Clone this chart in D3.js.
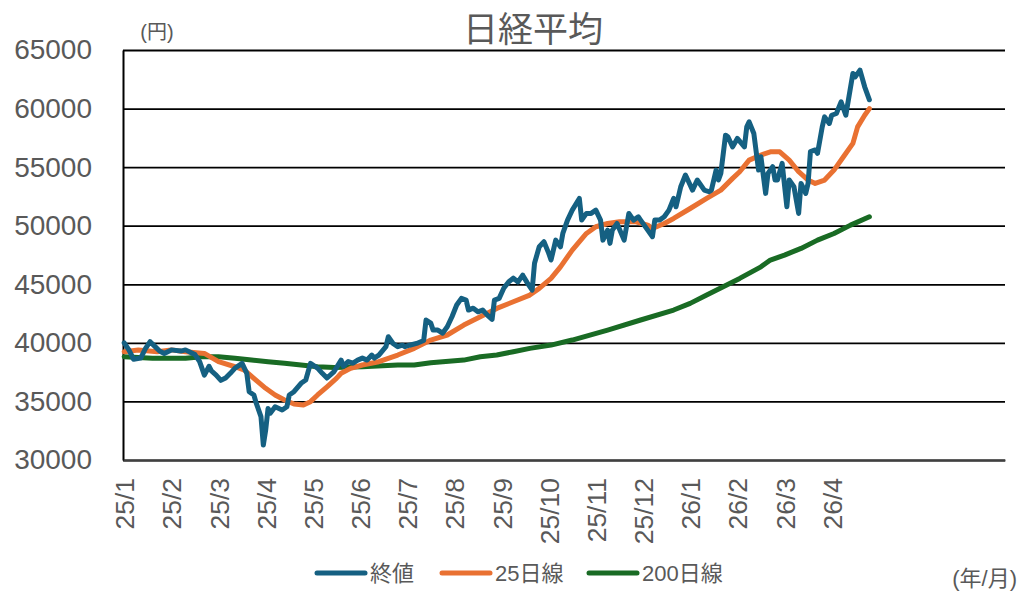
<!DOCTYPE html>
<html>
<head>
<meta charset="utf-8">
<script src="https://cdn.jsdelivr.net/npm/d3@7"></script>
<style>
  body { margin: 0; background: #fff; }
  svg text { font-family: "Liberation Sans", Arial, "Noto Sans CJK JP", sans-serif; fill: #595959; }
</style>
</head>
<body>
<div id="chart"></div>
<script>
// month labels, one every 20 trading days
const monthLabels = ['25/1','25/2','25/3','25/4','25/5','25/6','25/7','25/8','25/9','25/10','25/11','25/12','26/1','26/2','26/3','26/4'];
const yTicks = [30000, 35000, 40000, 45000, 50000, 55000, 60000, 65000];

// close (trading day index, yen)
const closeDays = [0,2,4,7,9,11,13,15,17,20,24,26,28,30,32,34,36,37,39,41,43,45,47,50,52,53,55,56,58,59,60,61,62,64,67,69,70,72,75,77,79,82,84,86,89,92,93,95,97,99,101,103,105,106,108,111,112,114,116,118,119,121,124,127,128,130,131,133,135,137,139,141,143,145,146,148,150,152,154,156,157,159,161,163,165,167,169,171,173,174,176,178,180,181,183,185,186,188,190,193,194,196,198,200,202,203,205,206,207,209,212,214,216,218,219,222,224,225,227,229,231,233,234,236,238,239,241,243,246,248,249,251,252,253,255,256,258,260,263,264,265,267,269,270,272,273,275,276,277,279,281,282,284,286,287,289,290,291,293,294,296,297,299,300,302,304,306,309,310,312,314,316];
const closeValues = [40000,39400,38600,38700,39500,40100,39700,39300,39100,39400,39300,39400,39200,39000,38400,37250,38000,37600,37250,36800,37000,37400,37850,38250,37400,35830,35550,34850,33700,31280,32560,34400,34000,34550,34270,34550,35550,35830,36550,36830,38250,37850,37400,37000,37550,38530,38000,38400,38270,38530,38700,38530,38960,38700,38960,39670,40520,39950,39670,39800,39670,39800,39950,40200,41950,41680,41090,41090,40830,41370,42230,43230,43800,43650,42800,42960,42650,42800,42370,42000,43650,43800,44680,45200,45530,45200,45780,45100,44500,46800,48200,48630,47660,47070,48770,48200,49340,50480,51330,52330,50480,51050,51050,51330,50480,48770,49620,48490,49620,50190,48770,51050,50480,50760,50480,49620,49060,50480,50480,50760,51330,52330,51620,53330,54330,53900,53040,53900,53040,52900,53040,54750,53900,54470,57730,57590,56730,57450,56730,58440,58870,57870,54750,55890,52760,54470,55040,53900,53900,55320,51620,53900,53330,51050,53610,52760,53610,56330,56470,56180,58440,59290,58730,59430,59580,60570,59430,63000,62710,63280,61860,60750];

// 25-day moving average
const ma25Days = [0,6,14,20,26,34,40,47,51,55,60,64,68,72,76,79,82,86,90,92,96,101,108,116,123,130,137,144,151,158,165,172,176,181,185,190,196,200,205,210,217,222,224,229,233,240,247,253,258,261,265,270,274,278,282,286,290,293,297,301,305,309,311,314,316];
const ma25Values = [39240,39390,39240,39400,39240,39100,38390,37960,37680,36970,36120,35550,35120,34780,34700,34980,35550,36250,36970,37400,37820,38110,38390,38960,39530,40240,40670,41520,42230,42940,43510,44080,44650,45500,46490,47920,49340,49910,50190,50330,50330,50050,49760,50190,50620,51470,52330,53040,54040,54610,55600,56030,56310,56310,55600,54610,53900,53610,53900,54750,55890,57030,58440,59430,60000];

// 200-day moving average
const ma200Days = [0,12,26,33,40,47,54,61,68,75,82,89,101,116,123,130,144,151,158,165,172,181,190,205,219,233,240,247,254,261,270,274,280,287,294,301,308,316];
const ma200Values = [38820,38680,38680,38820,38820,38680,38530,38390,38250,38110,37960,37900,37960,38110,38110,38300,38530,38820,38960,39240,39530,39810,40240,41090,41950,42800,43370,44080,44790,45500,46490,47070,47490,48060,48770,49340,50050,50760];

const seriesNames = ['終値', '25日線', '200日線'];
const seriesColors = ['#156082', '#E97132', '#196B24'];

const width = 1022, height = 592;
const margin = { top: 50, right: 17, bottom: 132, left: 123 };
const plotW = width - margin.left - margin.right;
const plotH = height - margin.top - margin.bottom;
const slots = 374;

const svg = d3.select('#chart').append('svg')
  .attr('width', width)
  .attr('height', height);

const x = d3.scaleLinear().domain([0, slots]).range([margin.left, margin.left + plotW]);
const y = d3.scaleLinear().domain([30000, 65000]).range([margin.top + plotH, margin.top]);

// gridlines + y labels
const yAxis = svg.append('g')
  .attr('transform', `translate(${margin.left},0)`)
  .call(d3.axisLeft(y).tickValues(yTicks).tickFormat(d3.format('d')).tickSize(-plotW).tickSizeOuter(0).tickPadding(31));
yAxis.selectAll('.tick line').attr('stroke', '#000').attr('stroke-width', 1.8);
yAxis.select('.domain').attr('stroke', '#000').attr('stroke-width', 2);
yAxis.selectAll('.tick text').style('font-size', '28px');

// x axis, rotated month labels
const xAxis = svg.append('g')
  .attr('transform', `translate(0,${margin.top + plotH})`)
  .call(d3.axisBottom(x)
    .tickValues(monthLabels.map((d, i) => i * 20 + 0.5))
    .tickFormat((d, i) => monthLabels[i])
    .tickSize(0).tickSizeOuter(0));
xAxis.select('.domain').attr('stroke', '#404040').attr('stroke-width', 2);
xAxis.selectAll('.tick text')
  .attr('transform', 'rotate(-90)')
  .attr('text-anchor', 'end')
  .attr('x', -18)
  .attr('y', 0)
  .attr('dy', '0.36em')
  .style('font-size', '26.5px');

const line = d3.line()
  .x((d) => x(d[0] + 0.5))
  .y((d) => y(d[1]));

const seriesData = [
  d3.zip(closeDays, closeValues),
  d3.zip(ma25Days, ma25Values),
  d3.zip(ma200Days, ma200Values),
];

// draw 200 first so close sits on top
[2, 1, 0].forEach((i) => {
  svg.append('path')
    .datum(seriesData[i])
    .attr('fill', 'none')
    .attr('stroke', seriesColors[i])
    .attr('stroke-width', 5)
    .attr('stroke-linejoin', 'round')
    .attr('stroke-linecap', 'round')
    .attr('d', line);
});

// title and units
svg.append('text').attr('x', 533).attr('y', 42).attr('text-anchor', 'middle')
  .style('font-size', '35px').text('日経平均');
svg.append('text').attr('x', 157).attr('y', 39).attr('text-anchor', 'middle')
  .style('font-size', '20px').text('(円)');
svg.append('text').attr('x', 1017).attr('y', 586).attr('text-anchor', 'end')
  .style('font-size', '22px').text('(年/月)');

// legend
const legendX = [315, 440, 587];
const legend = svg.append('g');
seriesNames.forEach((name, i) => {
  const g = legend.append('g').attr('transform', `translate(${legendX[i]},573)`);
  g.append('line').attr('x1', 2).attr('x2', 50)
    .attr('stroke', seriesColors[i]).attr('stroke-width', 5).attr('stroke-linecap', 'round');
  g.append('text').attr('x', 55).attr('y', 0).attr('dy', '0.36em')
    .style('font-size', '22px').text(name);
});
</script>
</body>
</html>
